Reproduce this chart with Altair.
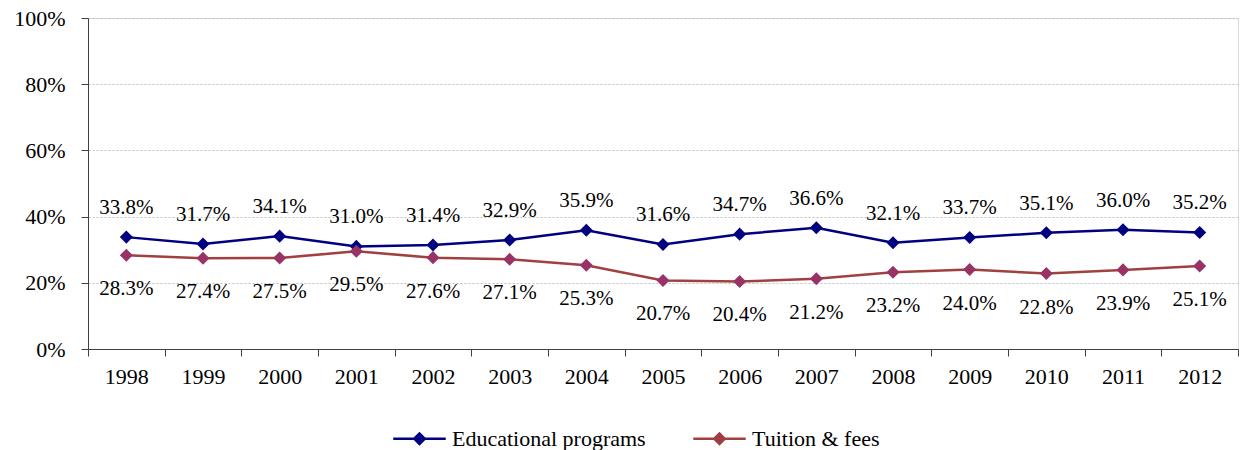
import altair as alt
import pandas as pd

years = [str(y) for y in range(1998, 2013)]
edu = [33.8, 31.7, 34.1, 31.0, 31.4, 32.9, 35.9, 31.6, 34.7, 36.6, 32.1, 33.7, 35.1, 36.0, 35.2]
tuition = [28.3, 27.4, 27.5, 29.5, 27.6, 27.1, 25.3, 20.7, 20.4, 21.2, 23.2, 24.0, 22.8, 23.9, 25.1]
series_names = ["Educational programs", "Tuition & fees"]
line_colors = ["#000080", "#A0403F"]
marker_colors = ["#000080", "#993366"]

rows = []
for i, y in enumerate(years):
    rows.append({"year": y, "series": series_names[0], "value": edu[i] / 100})
    rows.append({"year": y, "series": series_names[1], "value": tuition[i] / 100})
df = pd.DataFrame(rows)

FONT = "'Liberation Serif', 'DejaVu Serif', serif"

x = alt.X("year:O", title=None, scale=alt.Scale(type="band", paddingInner=0, paddingOuter=0),
          bandPosition=0.5,
          axis=alt.Axis(labelAngle=0, tickBand="extent", labelFont=FONT, labelFontSize=22,
                        labelColor="#000000", domainColor="#404040", tickColor="#404040",
                        tickSize=7, labelPadding=10, grid=False))
y = alt.Y("value:Q", title=None,
          scale=alt.Scale(domain=[0, 1]),
          axis=alt.Axis(format=".0%", values=[0, 0.2, 0.4, 0.6, 0.8, 1.0], labelFont=FONT,
                        labelFontSize=22, labelColor="#000000", domainColor="#404040",
                        tickColor="#404040", tickSize=7, labelPadding=16,
                        grid=True, gridColor="#BFBFBF", gridDash=[2, 2], gridWidth=1))

legend_path = "M-1,0H1M-0.2,0L0,-0.2L0.2,0L0,0.2Z"

def make_legend():
    return alt.Legend(title=None, orient="none", direction="horizontal",
                      legendX=304, legendY=393, symbolType=legend_path,
                      symbolSize=2750, symbolStrokeWidth=2.5,
                      labelFont=FONT, labelFontSize=22, labelColor="#000000",
                      columnPadding=42, labelOffset=5, labelLimit=400)

stroke_enc = alt.Stroke("series:N", scale=alt.Scale(domain=series_names, range=line_colors),
                        legend=make_legend())
fill_enc = alt.Fill("series:N", scale=alt.Scale(domain=series_names, range=marker_colors),
                    legend=make_legend())

base = alt.Chart(df)
lines = base.mark_line(strokeWidth=2.5).encode(x=x, y=y, stroke=stroke_enc, detail="series:N")
points = base.mark_point(shape="diamond", filled=True, size=170, opacity=1).encode(
    x=x, y=y, fill=fill_enc)

edu_labels = base.transform_filter(alt.datum.series == series_names[0]).mark_text(
    dy=-29, font=FONT, fontSize=21, color="#000000").encode(
    x=x, y=y, text=alt.Text("value:Q", format=".1%"))
tui_labels = base.transform_filter(alt.datum.series == series_names[1]).mark_text(
    dy=34, font=FONT, fontSize=21, color="#000000").encode(
    x=x, y=y, text=alt.Text("value:Q", format=".1%"))

chart = alt.layer(lines, points, edu_labels, tui_labels).properties(
    width=1150, height=331,
    autosize=alt.AutoSizeParams(type="none"),
    padding={"left": 88, "top": 18, "right": 5, "bottom": 101},
).configure_view(stroke=None).configure(background="#FFFFFF")

chart.save("out.html", embed_options={"renderer": "svg", "actions": False})
